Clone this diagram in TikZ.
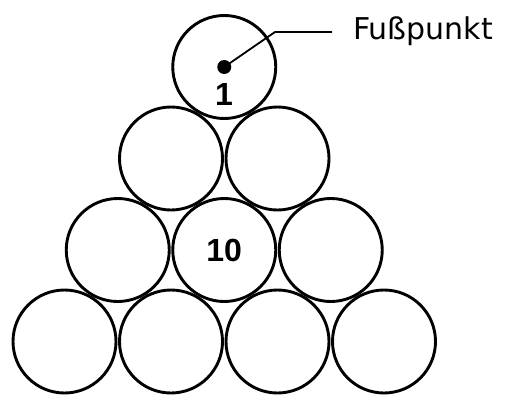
\documentclass[tikz,border=0pt]{standalone}
\usepackage{fontspec}
\setmainfont{DejaVu Sans}
\newfontfamily\numfont{Liberation Sans}
\usetikzlibrary{positioning, calc}

\begin{document}
\begin{tikzpicture}[
  x=1pt, y=-1pt,
  every node/.style={inner sep=0pt}
]
\tikzset{
  ball/.style  ={circle, draw=black, line width=2.9pt, minimum size=103pt},
  num/.style   ={font=\numfont\bfseries\fontsize{32}{32}\selectfont},
  dot/.style   ={circle, fill=black, minimum size=14pt},
  lead/.style  ={line width=1.8pt},
  lab/.style   ={font=\fontsize{30}{36}\selectfont, anchor=base west}
}
\useasboundingbox (0,0) rectangle (505,396);

%% ----- stacked balls, 4 rows -----
\foreach \r in {1,...,4} {
  \foreach \c in {1,...,\r} {
    \node[ball] (b\r\c) at ({224.25 + (\c - (\r+1)/2)*106.5}, {67 + (\r-1)*91.5}) {};
  }
}

%% ----- numbers -----
\node[num] (n1)  at (224,94)    {1};
\node[num] (n10) at (b32)       {10};

%% ----- foot point with leader -----
\node[dot] (fp) at (b11) {};
\coordinate (knee) at (275,32);
\coordinate (lend) at (332,32);
\node[lab] (fuss) at (353,40) {Fußpunkt};
\draw[lead] (fp.center) -- (knee) -- (lend);

\end{tikzpicture}
\end{document}
